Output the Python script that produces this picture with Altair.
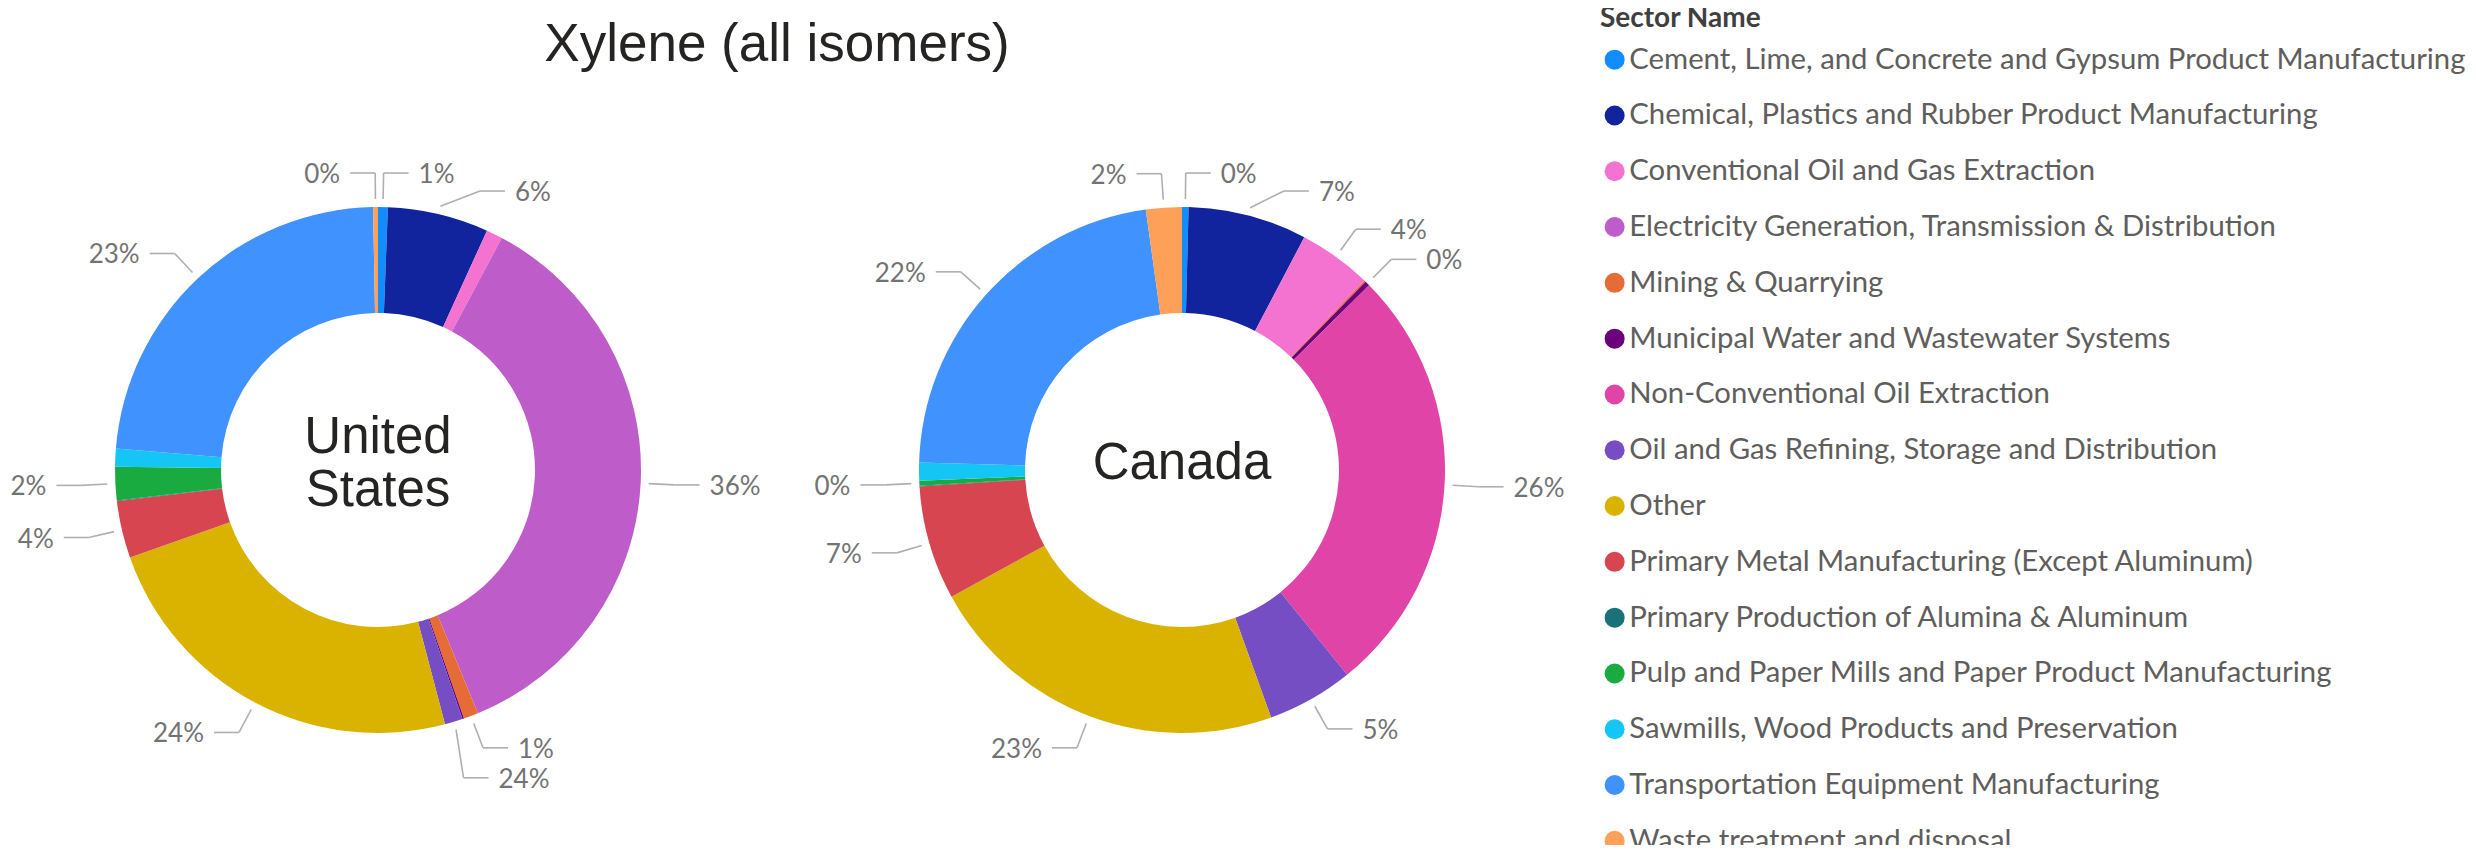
import math
import altair as alt
import pandas as pd

# ---------------- data ----------------
SECTORS = [
    "Cement, Lime, and Concrete and Gypsum Product Manufacturing",
    "Chemical, Plastics and Rubber Product Manufacturing",
    "Conventional Oil and Gas Extraction",
    "Electricity Generation, Transmission & Distribution",
    "Mining & Quarrying",
    "Municipal Water and Wastewater Systems",
    "Non-Conventional Oil Extraction",
    "Oil and Gas Refining, Storage and Distribution",
    "Other",
    "Primary Metal Manufacturing (Except Aluminum)",
    "Primary Production of Alumina & Aluminum",
    "Pulp and Paper Mills and Paper Product Manufacturing",
    "Sawmills, Wood Products and Preservation",
    "Transportation Equipment Manufacturing",
    "Waste treatment and disposal",
]
COLORS = [
    "#118DFF", "#12239E", "#F472D0", "#BE5DC9", "#E66C37", "#6B007B", "#E044A7",
    "#744EC2", "#D9B300", "#D64550", "#197278", "#1AAB40", "#15C6F4", "#4092FF", "#FFA058",
]
COUNTRIES = ["United States", "Canada"]
CENTER_TEXT = ["United\nStates", "Canada"]

US_VALUES = [0.6, 6.2, 1.0, 36.0, 0.9, 0.1, 0.0, 1.1, 23.7, 3.5, 0.05, 2.05, 1.1, 23.4, 0.3]
CA_VALUES = [0.4, 7.3, 4.5, 0.0, 0.1, 0.3, 26.6, 5.3, 22.5, 7.0, 0.05, 0.3, 1.1, 22.35, 2.2]

US_LABELS = ["1%", "6%", "", "36%", "1%", "", "", "24%", "24%", "4%", "", "2%", "", "23%", "0%"]
CA_LABELS = ["0%", "7%", "4%", "", "", "0%", "26%", "5%", "23%", "7%", "", "0%", "", "22%", "2%"]

TITLE = "Xylene (all isomers)"
LEGEND_TITLE = "Sector Name"

# ---------------- layout ----------------
W, H = 2460, 837
CX_US, CX_CA = 370, 1174
CY = 462
R_IN, R_OUT = 157, 263
R_START = R_OUT + 8
R_ELBOW = R_OUT + 34
H_LEN = 25
T_GAP = 10
GAP_TOP = 18
GAP_BOTTOM = 30
LINE_COLOR = "#AFAFAF"
LABEL_FONT = "Segoe UI, Lato, sans-serif"
HEAD_FONT = "Liberation Sans, Arial, sans-serif"
CENTER_LH = 53

rows = []
for country, vals, labs in ((COUNTRIES[0], US_VALUES, US_LABELS), (COUNTRIES[1], CA_VALUES, CA_LABELS)):
    for i, (s, v, l) in enumerate(zip(SECTORS, vals, labs)):
        rows.append(dict(country=country, sector=s, order=i, value=v, label=l))
df = pd.DataFrame(rows)

cx_expr = f'datum.country === "United States" ? {CX_US} : {CX_CA}'

base = (
    alt.Chart(df)
    .transform_joinaggregate(total="sum(value)", groupby=["country"])
    .transform_window(cum="sum(value)", sort=[alt.SortField("order")], groupby=["country"], frame=[None, 0])
    .transform_calculate(f1="datum.cum / datum.total")
    .transform_calculate(f0="(datum.cum - datum.value) / datum.total")
    .transform_calculate(cx=cx_expr)
)

arcs = base.mark_arc(innerRadius=R_IN, outerRadius=R_OUT).encode(
    theta=alt.Theta("f0:Q", stack=None, scale=alt.Scale(domain=[0, 1], range=[0, 2 * math.pi])),
    theta2="f1:Q",
    x=alt.X("cx:Q", scale=None, stack=None),
    y=alt.value(CY),
    color=alt.Color(
        "sector:N",
        scale=alt.Scale(domain=SECTORS, range=COLORS),
        legend=alt.Legend(
            title=LEGEND_TITLE,
            orient="none",
            legendX=1592,
            legendY=-3,
            padding=0,
            titleFont=LABEL_FONT,
            titleFontSize=28,
            titleFontWeight="bold",
            titleColor="#3F3F3F",
            titlePadding=12,
            labelFont=LABEL_FONT,
            labelFontSize=29.3,
            labelColor="#605E5C",
            labelLimit=0,
            labelOffset=0,
            symbolType="circle",
            symbolSize=400,
            symbolStrokeWidth=0,
            symbolOpacity=1,
            rowPadding=25.8,
        ),
    ),
)

lab = (
    base.transform_filter('datum.label != ""')
    .transform_calculate(mid="(datum.f0 + datum.f1) * PI")
    .transform_calculate(side="sin(datum.mid) >= 0 ? 1 : -1")
    .transform_calculate(y0=f"-cos(datum.mid) * {R_ELBOW}")
    .transform_calculate(half="datum.y0 >= 0 ? 1 : 0")
    .transform_calculate(gap=f"datum.half ? {GAP_BOTTOM} : {GAP_TOP}")
    .transform_window(k="row_number()", groupby=["country", "side", "half"], sort=[alt.SortField("y0")])
    .transform_calculate(z="datum.y0 - datum.gap * datum.k")
    .transform_window(
        zmax="max(z)", groupby=["country", "side", "half"], sort=[alt.SortField("y0")], frame=[None, 0]
    )
    .transform_calculate(ye="max(datum.y0, datum.gap * datum.k + datum.zmax)")
    .transform_calculate(
        xe=f"datum.side * max(abs(sin(datum.mid)) * {R_ELBOW}, sqrt(max(0, {R_ELBOW * R_ELBOW} - datum.ye * datum.ye)))"
    )
    .transform_calculate(sx=f"datum.cx + sin(datum.mid) * {R_START}")
    .transform_calculate(sy=f"{CY} - cos(datum.mid) * {R_START}")
    .transform_calculate(ex="datum.cx + datum.xe")
    .transform_calculate(ey=f"{CY} + datum.ye")
    .transform_calculate(hx=f"datum.ex + datum.side * {H_LEN}")
    .transform_calculate(tx=f"datum.ex + datum.side * {H_LEN + T_GAP}")
    .transform_calculate(ty="datum.ey + 2")
)

leader1 = lab.mark_rule(color=LINE_COLOR, strokeWidth=1.6).encode(
    x=alt.X("sx:Q", scale=None), y=alt.Y("sy:Q", scale=None), x2="ex:Q", y2="ey:Q"
)
leader2 = lab.mark_rule(color=LINE_COLOR, strokeWidth=1.6).encode(
    x=alt.X("ex:Q", scale=None), x2="hx:Q", y=alt.Y("ey:Q", scale=None)
)
text_right = lab.transform_filter("datum.side > 0").mark_text(
    align="left", baseline="middle", font=LABEL_FONT, fontSize=26, color="#737373"
).encode(x=alt.X("tx:Q", scale=None), y=alt.Y("ty:Q", scale=None), text="label:N")
text_left = lab.transform_filter("datum.side < 0").mark_text(
    align="right", baseline="middle", font=LABEL_FONT, fontSize=26, color="#737373"
).encode(x=alt.X("tx:Q", scale=None), y=alt.Y("ty:Q", scale=None), text="label:N")

center_df = pd.DataFrame({"country": COUNTRIES, "name": CENTER_TEXT})
center = (
    alt.Chart(center_df)
    .transform_calculate(cx=cx_expr)
    .transform_calculate(nl='length(split(datum.name, "\\n"))')
    .transform_calculate(cy=f"{CY - 6} - (datum.nl - 1) * {CENTER_LH / 2}")
    .mark_text(
        align="center", baseline="middle", font=HEAD_FONT, fontSize=51, lineHeight=CENTER_LH,
        lineBreak="\n", color="#252423",
    )
    .encode(x=alt.X("cx:Q", scale=None), y=alt.Y("cy:Q", scale=None), text="name:N")
)

title = (
    alt.Chart(pd.DataFrame({"t": [TITLE]}))
    .mark_text(align="center", baseline="alphabetic", font=HEAD_FONT, fontSize=53, color="#252423")
    .encode(x=alt.value(769), y=alt.value(53), text="t:N")
)

chart = (
    alt.layer(arcs, leader1, leader2, text_left, text_right, center, title)
    .properties(width=W, height=H, padding=0, autosize="none")
    .configure_view(stroke=None)
)

chart.save("out.html", embed_options={"renderer": "svg", "actions": False})
